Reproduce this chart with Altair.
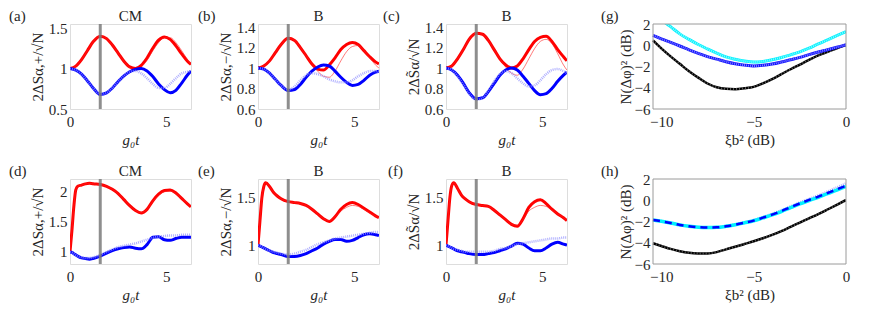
import math
import altair as alt
import pandas as pd

# ---------------- data ----------------
T1 = [0, 0.3, 0.6, 0.9, 1.2, 1.57, 1.9, 2.2, 2.5, 2.8, 3.1, 3.4, 3.7, 4.0, 4.3, 4.6, 4.9, 5.2, 5.5, 5.8, 6.1, 6.28]
T2 = [0, 0.1, 0.2, 0.3, 0.4, 0.6, 0.8, 1.0, 1.2, 1.57, 1.9, 2.2, 2.5, 2.8, 3.1, 3.4, 3.7, 4.0, 4.3, 4.6, 4.9, 5.2, 5.5, 5.8, 6.1, 6.28]
MARK_T = [1.5708]

# (a) CM
red_a = [1.00, 1.03, 1.11, 1.22, 1.33, 1.40, 1.37, 1.29, 1.19, 1.09, 1.02, 1.00, 1.04, 1.13, 1.25, 1.35, 1.39, 1.36, 1.28, 1.18, 1.09, 1.05]
redthin_a = [1.00, 1.03, 1.11, 1.22, 1.33, 1.40, 1.37, 1.29, 1.19, 1.09, 1.01, 0.98, 1.02, 1.10, 1.22, 1.32, 1.38, 1.38, 1.32, 1.22, 1.11, 1.05]
blue_a = [1.00, 0.98, 0.93, 0.85, 0.76, 0.68, 0.70, 0.76, 0.84, 0.91, 0.96, 0.99, 1.00, 0.97, 0.90, 0.81, 0.74, 0.70, 0.73, 0.82, 0.92, 0.97]
bluef_a = [1.00, 0.98, 0.93, 0.85, 0.76, 0.68, 0.70, 0.76, 0.84, 0.91, 0.96, 0.97, 0.94, 0.88, 0.81, 0.76, 0.76, 0.81, 0.88, 0.94, 0.96, 0.97]
# (b) B
red_b = [1.00, 1.02, 1.07, 1.15, 1.23, 1.29, 1.27, 1.20, 1.12, 1.04, 0.99, 0.98, 1.03, 1.10, 1.18, 1.23, 1.25, 1.23, 1.17, 1.11, 1.06, 1.04]
redthin_b = [1.00, 1.02, 1.07, 1.15, 1.23, 1.29, 1.27, 1.20, 1.12, 1.04, 0.97, 0.92, 0.91, 0.97, 1.07, 1.16, 1.21, 1.22, 1.17, 1.10, 1.03, 1.00]
blue_b = [1.00, 0.99, 0.95, 0.89, 0.83, 0.78, 0.79, 0.84, 0.91, 0.97, 1.01, 1.03, 1.02, 0.97, 0.91, 0.86, 0.83, 0.84, 0.88, 0.93, 0.96, 0.97]
bluef_b = [1.00, 0.99, 0.95, 0.89, 0.83, 0.79, 0.82, 0.88, 0.93, 0.95, 0.94, 0.92, 0.89, 0.87, 0.86, 0.86, 0.88, 0.92, 0.95, 0.97, 0.97, 0.96]
# (c) B
red_c = [1.00, 1.02, 1.09, 1.18, 1.28, 1.34, 1.33, 1.27, 1.18, 1.09, 1.03, 1.00, 1.02, 1.09, 1.18, 1.26, 1.30, 1.31, 1.26, 1.18, 1.11, 1.07]
redthin_c = [1.00, 1.02, 1.09, 1.18, 1.28, 1.34, 1.33, 1.27, 1.18, 1.09, 1.01, 0.95, 0.93, 0.99, 1.09, 1.19, 1.26, 1.28, 1.24, 1.14, 1.03, 0.98]
blue_c = [1.00, 0.98, 0.93, 0.85, 0.76, 0.70, 0.71, 0.77, 0.85, 0.93, 0.98, 1.00, 0.98, 0.92, 0.85, 0.78, 0.74, 0.75, 0.80, 0.87, 0.93, 0.96]
bluef_c = [1.00, 0.98, 0.92, 0.84, 0.75, 0.69, 0.71, 0.78, 0.87, 0.94, 0.97, 0.95, 0.90, 0.85, 0.82, 0.83, 0.88, 0.94, 0.98, 0.99, 0.97, 0.95]
# (d) CM
red_d = [1.00, 1.35, 1.75, 2.02, 2.08, 2.10, 2.12, 2.13, 2.12, 2.11, 2.08, 2.03, 1.96, 1.86, 1.76, 1.68, 1.64, 1.70, 1.84, 1.95, 2.01, 2.02, 1.97, 1.88, 1.79, 1.74]
redthin_d = [1.00, 1.35, 1.75, 2.02, 2.08, 2.10, 2.12, 2.13, 2.12, 2.11, 2.08, 2.03, 1.96, 1.86, 1.76, 1.68, 1.65, 1.70, 1.83, 1.93, 1.99, 2.00, 1.96, 1.88, 1.80, 1.75]
blue_d = [1.00, 0.99, 0.97, 0.95, 0.93, 0.90, 0.89, 0.88, 0.89, 0.93, 0.98, 1.02, 1.05, 1.07, 1.08, 1.06, 1.05, 1.12, 1.24, 1.25, 1.20, 1.19, 1.22, 1.24, 1.24, 1.24]
bluef_d = [1.00, 0.99, 0.97, 0.95, 0.93, 0.91, 0.90, 0.90, 0.91, 0.95, 1.00, 1.04, 1.08, 1.10, 1.12, 1.14, 1.17, 1.20, 1.23, 1.25, 1.26, 1.27, 1.27, 1.28, 1.28, 1.28]
# (e) B
red_e = [1.00, 1.25, 1.50, 1.62, 1.66, 1.62, 1.56, 1.52, 1.49, 1.46, 1.45, 1.44, 1.42, 1.38, 1.33, 1.28, 1.25, 1.30, 1.38, 1.43, 1.45, 1.43, 1.39, 1.35, 1.31, 1.29]
redthin_e = [1.00, 1.25, 1.50, 1.62, 1.66, 1.62, 1.56, 1.52, 1.49, 1.46, 1.45, 1.44, 1.42, 1.38, 1.33, 1.28, 1.26, 1.30, 1.36, 1.40, 1.42, 1.41, 1.38, 1.34, 1.31, 1.29]
blue_e = [1.00, 0.99, 0.98, 0.97, 0.96, 0.94, 0.92, 0.91, 0.90, 0.88, 0.88, 0.89, 0.91, 0.94, 0.97, 1.01, 1.04, 1.06, 1.06, 1.04, 1.05, 1.08, 1.11, 1.12, 1.11, 1.10]
bluef_e = [1.00, 0.99, 0.98, 0.97, 0.96, 0.94, 0.93, 0.92, 0.91, 0.90, 0.91, 0.93, 0.95, 0.98, 1.01, 1.03, 1.05, 1.07, 1.08, 1.09, 1.10, 1.11, 1.12, 1.13, 1.14, 1.14]
# (f) B
red_f = [1.00, 1.25, 1.50, 1.63, 1.66, 1.60, 1.53, 1.49, 1.46, 1.43, 1.42, 1.41, 1.37, 1.32, 1.27, 1.22, 1.20, 1.28, 1.40, 1.46, 1.48, 1.44, 1.38, 1.33, 1.29, 1.26]
redthin_f = [1.00, 1.25, 1.50, 1.63, 1.66, 1.60, 1.53, 1.49, 1.46, 1.43, 1.42, 1.41, 1.37, 1.32, 1.27, 1.22, 1.21, 1.27, 1.36, 1.40, 1.42, 1.41, 1.37, 1.33, 1.29, 1.26]
blue_f = [1.00, 0.99, 0.98, 0.97, 0.96, 0.94, 0.93, 0.92, 0.91, 0.90, 0.90, 0.91, 0.92, 0.94, 0.96, 0.99, 1.02, 1.01, 0.97, 0.94, 0.94, 0.97, 1.01, 1.03, 1.01, 1.00]
bluef_f = [1.00, 0.99, 0.98, 0.97, 0.96, 0.95, 0.94, 0.93, 0.93, 0.93, 0.93, 0.93, 0.94, 0.96, 0.97, 0.99, 1.01, 1.02, 1.03, 1.04, 1.05, 1.06, 1.07, 1.07, 1.08, 1.08]

# (g), (h): squeezing in dB
XG = [-10.45, -10, -9.5, -9, -8.5, -8, -7.5, -7, -6.5, -6, -5.5, -5, -4.5, -4, -3.5, -3, -2.5, -2, -1.5, -1, -0.5, 0]
black_g = [0.45, -0.30, -1.05, -1.75, -2.45, -3.05, -3.60, -3.95, -4.10, -4.13, -4.05, -3.92, -3.58, -3.18, -2.72, -2.26, -1.82, -1.38, -0.96, -0.62, -0.28, 0.04]
blue_g = [0.92, 0.60, 0.27, -0.07, -0.43, -0.77, -1.07, -1.31, -1.55, -1.74, -1.87, -1.95, -1.89, -1.77, -1.58, -1.36, -1.14, -0.88, -0.64, -0.42, -0.19, 0.04]
cyan_g = [3.10, 2.40, 1.75, 1.07, 0.55, 0.07, -0.35, -0.75, -1.10, -1.32, -1.48, -1.58, -1.52, -1.37, -1.15, -0.90, -0.62, -0.28, 0.13, 0.50, 0.90, 1.29]
black_h = [-4.05, -4.30, -4.58, -4.80, -4.95, -5.00, -5.00, -4.88, -4.62, -4.38, -4.12, -3.86, -3.58, -3.26, -2.90, -2.50, -2.10, -1.70, -1.30, -0.87, -0.43, 0.02]
blue_h = [-1.86, -1.98, -2.14, -2.32, -2.45, -2.54, -2.57, -2.55, -2.45, -2.30, -2.12, -1.92, -1.64, -1.35, -1.02, -0.65, -0.30, 0.03, 0.34, 0.68, 1.02, 1.37]
cyan_h = [-1.86, -1.98, -2.14, -2.32, -2.45, -2.54, -2.57, -2.55, -2.45, -2.30, -2.12, -1.93, -1.66, -1.38, -1.06, -0.70, -0.35, -0.03, 0.28, 0.62, 0.95, 1.30]
lav_h = [-1.84, -1.96, -2.12, -2.30, -2.43, -2.52, -2.55, -2.52, -2.42, -2.26, -2.07, -1.86, -1.58, -1.28, -0.94, -0.57, -0.21, 0.13, 0.46, 0.82, 1.20, 1.58]

# ---------------- style ----------------
FONT = "Liberation Serif"
TXT = "#262626"
FRAME = "#9a9a9a"
W, H = 121, 85
WG, XG0 = 212, 19


def y_axis(values, title, title_pad, offset=0):
    return alt.Axis(values=values, format="~r", title=title, grid=False, domain=False, ticks=False,
                    labelFont=FONT, labelFontSize=15, labelColor=TXT, labelPadding=3,
                    labelFlush=False, labelOverlap=False, offset=offset,
                    titleFont=FONT, titleFontSize=15, titleColor=TXT, titleFontWeight="normal",
                    titlePadding=title_pad)


def x_axis(values, title, style):
    return alt.Axis(values=values, format="~r", title=title, grid=False, domain=False, ticks=False,
                    labelFont=FONT, labelFontSize=15, labelColor=TXT, labelPadding=5,
                    labelFlush=False, labelOverlap=False,
                    titleFont=FONT, titleFontSize=15, titleColor=TXT, titleFontWeight="normal",
                    titleFontStyle=style, titlePadding=3)


def text_layer(label, lx, align="left"):
    return alt.Chart(pd.DataFrame({"lab": [label]})).mark_text(
        align=align, baseline="alphabetic", font=FONT, fontSize=15, color=TXT
    ).encode(x=alt.value(lx), y=alt.value(-3), text="lab:N")


def time_panel(t, red, redthin, blue, bluef, ydom, yticks, ytitle, title, label, lx):
    df = pd.DataFrame({"t": t, "red": red, "redthin": redthin, "blue": blue, "bluef": bluef})
    xs = alt.Scale(domain=[0, 2 * math.pi], nice=False, zero=False)
    ys = alt.Scale(domain=ydom, nice=False, zero=False)
    xe = alt.X("t:Q", scale=xs, axis=x_axis([0, 5], "g₀t", "italic"))

    def ye(f):
        return alt.Y(f"{f}:Q", scale=ys, axis=y_axis(yticks, ytitle, 3))

    base = alt.Chart(df)
    kw = dict(interpolate="monotone", clip=True)
    layers = [
        base.mark_line(color="#ff0000", strokeWidth=3, **kw).encode(x=xe, y=ye("red")),
        base.mark_line(color="#ff2020", strokeWidth=1, opacity=0.6, **kw).encode(x=xe, y=ye("redthin")),
        base.mark_line(color="#0000ff", strokeWidth=3, **kw).encode(x=xe, y=ye("blue")),
        base.mark_line(color="#9393ff", strokeWidth=2.5, strokeDash=[1, 1], opacity=0.75, **kw).encode(x=xe, y=ye("bluef")),
        alt.Chart(pd.DataFrame({"t": MARK_T})).mark_rule(color="#7a7a7a", strokeWidth=3, opacity=0.85).encode(x=xe),
        text_layer(label, lx),
        text_layer(title, W / 2, "center"),
    ]
    return alt.layer(*layers).properties(width=W, height=H)


def db_panel(df, layers_spec, label):
    xs = alt.Scale(domain=[-10.45, 0], range=[XG0, WG], nice=False, zero=False)
    ys = alt.Scale(domain=[-6, 2], nice=False, zero=False)
    xe = alt.X("x:Q", scale=xs, axis=x_axis([-10, -5, 0], "ξb² (dB)", "normal"))

    def ye(f):
        return alt.Y(f"{f}:Q", scale=ys, axis=y_axis([-6, -4, -2, 0, 2], "N(Δφ)² (dB)", 1, offset=-XG0))

    base = alt.Chart(df)
    layers = []
    for field, props in layers_spec:
        layers.append(base.mark_line(interpolate="monotone", clip=True, **props).encode(x=xe, y=ye(field)))
    frame = alt.Chart(pd.DataFrame({"k": [0]})).mark_rect(
        fillOpacity=0, stroke=FRAME, strokeWidth=1
    ).encode(x=alt.value(XG0), x2=alt.value(WG), y=alt.value(0), y2=alt.value(H))
    layers.append(frame)
    layers.append(text_layer(label, XG0 - 52))
    return alt.layer(*layers).properties(
        width=WG, height=H, view=alt.ViewBackground(stroke="transparent"))


TICKS_TOP = [0.6, 0.8, 1, 1.2, 1.4]
pa = time_panel(T1, red_a, redthin_a, blue_a, bluef_a, [0.5, 1.55], [0.5, 1, 1.5], "2ΔSα,+/√N", "CM", "(a)", -61)
pb = time_panel(T1, red_b, redthin_b, blue_b, bluef_b, [0.6, 1.43], TICKS_TOP, "2ΔSα,−/√N", "B", "(b)", -60)
pc = time_panel(T1, red_c, redthin_c, blue_c, bluef_c, [0.6, 1.43], TICKS_TOP, "2ΔS̃α/√N", "B", "(c)", -63)
pd_ = time_panel(T2, red_d, redthin_d, blue_d, bluef_d, [0.8, 2.2], [1, 1.5, 2], "2ΔSα,+/√N", "CM", "(d)", -61)
pe = time_panel(T2, red_e, redthin_e, blue_e, bluef_e, [0.8, 1.7], [1, 1.5], "2ΔSα,−/√N", "B", "(e)", -60)
pf = time_panel(T2, red_f, redthin_f, blue_f, bluef_f, [0.8, 1.7], [1, 1.5], "2ΔS̃α/√N", "B", "(f)", -58)

df_g = pd.DataFrame({"x": XG, "black": black_g, "blue": blue_g, "cyan": cyan_g})
pg = db_panel(df_g, [
    ("black", dict(color="#000000", strokeWidth=2.5)),
    ("black", dict(color="#9a9a9a", strokeWidth=2, strokeDash=[1, 2], opacity=0.6)),
    ("blue", dict(color="#1010ff", strokeWidth=3)),
    ("blue", dict(color="#9a9aff", strokeWidth=2, strokeDash=[1, 1], opacity=0.8)),
    ("cyan", dict(color="#00f0ff", strokeWidth=3)),
    ("cyan", dict(color="#a8ffff", strokeWidth=2, strokeDash=[1, 1], opacity=0.8)),
], "(g)")

df_h = pd.DataFrame({"x": XG, "black": black_h, "blue": blue_h, "cyan": cyan_h, "lav": lav_h})
ph = db_panel(df_h, [
    ("black", dict(color="#000000", strokeWidth=2.5)),
    ("black", dict(color="#9a9a9a", strokeWidth=2, strokeDash=[1, 2], opacity=0.6)),
    ("lav", dict(color="#9a9aff", strokeWidth=2.5, strokeDash=[1, 1], opacity=0.8)),
    ("cyan", dict(color="#00f0ff", strokeWidth=3.5)),
    ("blue", dict(color="#0000ff", strokeWidth=2.5, strokeDash=[7, 5])),
], "(h)")

chart = alt.concat(pa, pb, pc, pg, pd_, pe, pf, ph, columns=4,
                   spacing={"row": 70, "column": 67}, bounds="flush").properties(
    padding={"left": 0, "top": 0, "right": 6, "bottom": 4}
).configure_view(stroke=FRAME, strokeWidth=1).configure(background="white")

chart.save("out.html", embed_options={"renderer": "svg", "actions": False})
